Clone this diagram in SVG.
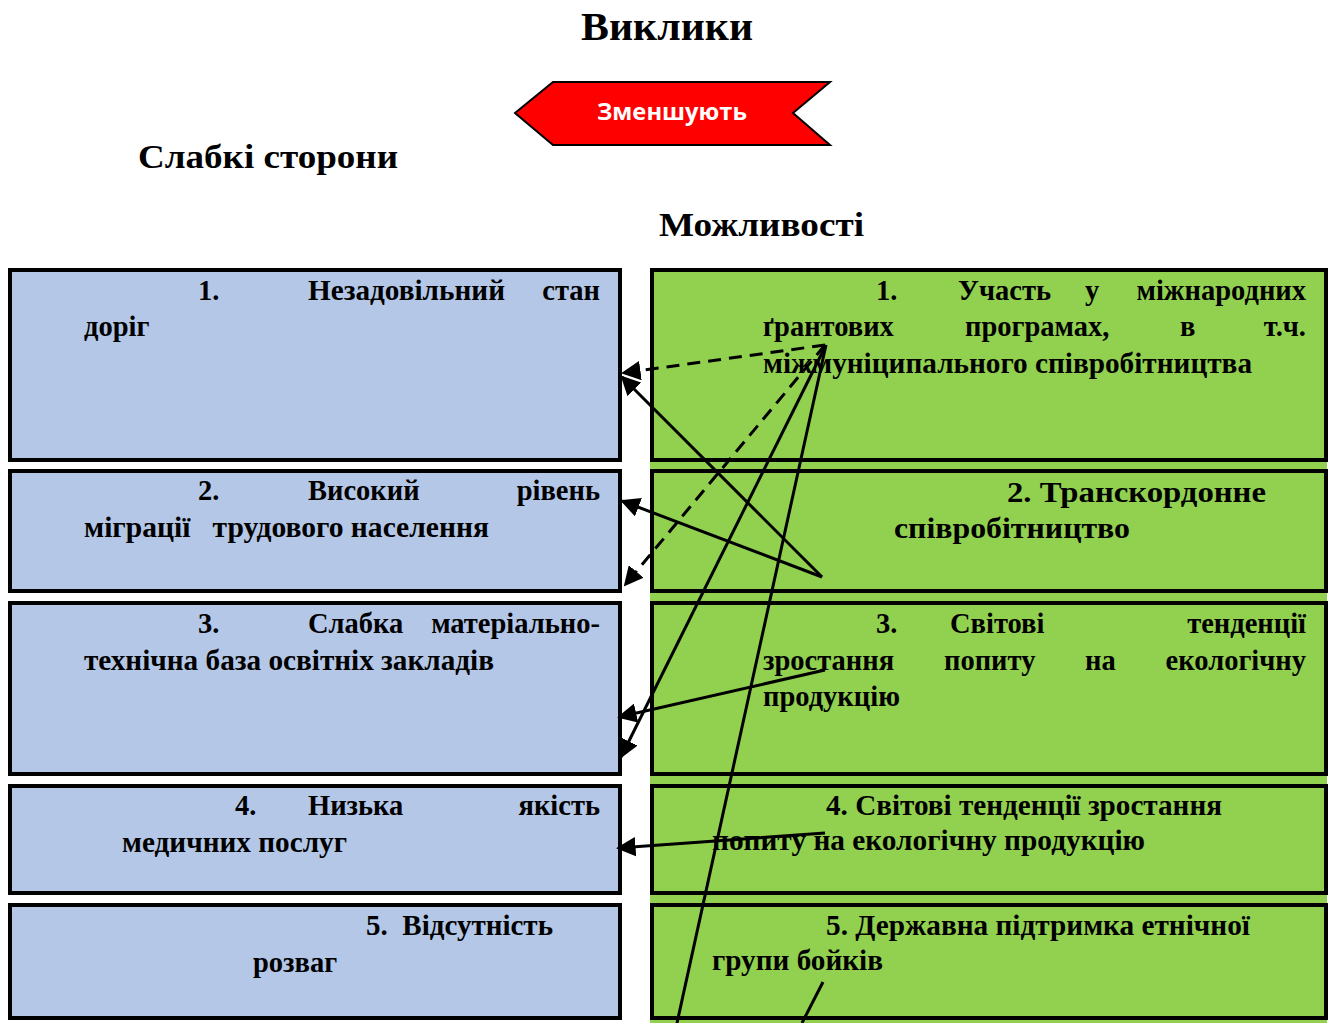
<svg xmlns="http://www.w3.org/2000/svg" width="1334" height="1023" viewBox="0 0 1334 1023">
<style>
.t{font-family:"Liberation Serif","Times New Roman",serif;font-weight:bold;fill:#000}
.b{font-size:28.5px}
.h{font-size:34px}
.wk{fill:#b4c7e7;stroke:#000;stroke-width:4}
.op{fill:#92d050;stroke:#000;stroke-width:4}
.ln{stroke:#000;stroke-width:3;fill:none}
.ds{stroke-dasharray:13 8}
</style>
<defs>
<marker id="ah" viewBox="0 0 10 10" refX="9" refY="5" markerWidth="6.5" markerHeight="6.5" markerUnits="strokeWidth" orient="auto">
<path d="M0,0 L10,5 L0,10 z" fill="#000"/>
</marker>
</defs>
<rect width="1334" height="1023" fill="#fff"/>
<g id="title">
<text class="t" x="667" y="40" text-anchor="middle" font-size="41" textLength="172" lengthAdjust="spacingAndGlyphs">Виклики</text>
<text class="t h" x="138" y="168" textLength="260" lengthAdjust="spacingAndGlyphs">Слабкі сторони</text>
<text class="t h" x="659" y="236" textLength="205" lengthAdjust="spacingAndGlyphs">Можливості</text>
</g>
<g id="arrow-zmenshuiut">
<polygon points="515,113 553,82 830,82 793,113 830,145 553,145" fill="#ff0000" stroke="#000" stroke-width="2"/>
<text x="672" y="120" text-anchor="middle" font-family="'Open Sans','Liberation Sans',sans-serif" font-weight="bold" font-size="23" fill="#fff" textLength="150" lengthAdjust="spacingAndGlyphs">Зменшують</text>
</g>
<rect x="650" y="268" width="677" height="755" fill="#92d050"/>
<g id="w1">
<rect class="wk" x="10" y="270" width="610" height="190"/>
<text class="t b" x="198" y="300">1.</text>
<text class="t b" x="308" y="300" textLength="197" lengthAdjust="spacingAndGlyphs">Незадовільний</text>
<text class="t b" x="600" y="300" text-anchor="end">стан</text>
<text class="t b" x="84" y="336">доріг</text>
</g>
<g id="w2">
<rect class="wk" x="10" y="471" width="610" height="120"/>
<text class="t b" x="198" y="500">2.</text>
<text class="t b" x="308" y="500">Високий</text>
<text class="t b" x="600" y="500" text-anchor="end">рівень</text>
<text class="t b" x="84" y="537" xml:space="preserve" textLength="405" lengthAdjust="spacingAndGlyphs">міграції   трудового населення</text>
</g>
<g id="w3">
<rect class="wk" x="10" y="603" width="610" height="171"/>
<text class="t b" x="198" y="633">3.</text>
<text class="t b" x="308" y="633">Слабка</text>
<text class="t b" x="600" y="633" text-anchor="end">матеріально-</text>
<text class="t b" x="84" y="670" textLength="410" lengthAdjust="spacingAndGlyphs">технічна база освітніх закладів</text>
</g>
<g id="w4">
<rect class="wk" x="10" y="786" width="610" height="107"/>
<text class="t b" x="235" y="815">4.</text>
<text class="t b" x="308" y="815">Низька</text>
<text class="t b" x="600" y="815" text-anchor="end">якість</text>
<text class="t b" x="122" y="852" textLength="225" lengthAdjust="spacingAndGlyphs">медичних послуг</text>
</g>
<g id="w5">
<rect class="wk" x="10" y="905" width="610" height="113"/>
<text class="t b" x="366" y="935" xml:space="preserve" textLength="187" lengthAdjust="spacingAndGlyphs">5.  Відсутність</text>
<text class="t b" x="253" y="972">розваг</text>
</g>
<g id="o1">
<rect class="op" x="652" y="270" width="674" height="190"/>
<text class="t b" x="876" y="300">1.</text>
<text class="t b" x="958" y="300">Участь</text>
<text class="t b" x="1085" y="300">у</text>
<text class="t b" x="1306" y="300" text-anchor="end">міжнародних</text>
<text class="t b" x="763" y="336">ґрантових</text>
<text class="t b" x="965" y="336">програмах,</text>
<text class="t b" x="1180" y="336">в</text>
<text class="t b" x="1306" y="336" text-anchor="end">т.ч.</text>
<text class="t b" x="763" y="373" textLength="489" lengthAdjust="spacingAndGlyphs">міжмуніципального співробітництва</text>
</g>
<g id="o2">
<rect class="op" x="652" y="471" width="674" height="120"/>
<text class="t b" x="1007" y="502" textLength="259" lengthAdjust="spacingAndGlyphs">2. Транскордонне</text>
<text class="t b" x="894" y="538" textLength="236" lengthAdjust="spacingAndGlyphs">співробітництво</text>
</g>
<g id="o3">
<rect class="op" x="652" y="603" width="674" height="171"/>
<text class="t b" x="876" y="633">3.</text>
<text class="t b" x="950" y="633">Світові</text>
<text class="t b" x="1306" y="633" text-anchor="end">тенденції</text>
<text class="t b" x="763" y="670">зростання</text>
<text class="t b" x="944" y="670">попиту</text>
<text class="t b" x="1085" y="670">на</text>
<text class="t b" x="1306" y="670" text-anchor="end">екологічну</text>
<text class="t b" x="763" y="706">продукцію</text>
</g>
<g id="o4">
<rect class="op" x="652" y="786" width="674" height="107"/>
<text class="t b" x="826" y="815" textLength="396" lengthAdjust="spacingAndGlyphs">4. Світові тенденції зростання</text>
<text class="t b" x="712" y="850" textLength="433" lengthAdjust="spacingAndGlyphs">попиту на екологічну продукцію</text>
</g>
<g id="o5">
<rect class="op" x="652" y="905" width="674" height="113"/>
<text class="t b" x="826" y="935" textLength="424" lengthAdjust="spacingAndGlyphs">5. Державна підтримка етнічної</text>
<text class="t b" x="712" y="970" textLength="171" lengthAdjust="spacingAndGlyphs">групи бойків</text>
</g>
<g id="connectors">
<line class="ln ds" x1="825" y1="345" x2="623" y2="373" marker-end="url(#ah)"/>
<line class="ln ds" x1="825" y1="345" x2="625" y2="585" marker-end="url(#ah)"/>
<line class="ln" x1="822" y1="577" x2="622" y2="377" marker-end="url(#ah)"/>
<line class="ln" x1="822" y1="577" x2="622" y2="501" marker-end="url(#ah)"/>
<line class="ln" x1="826" y1="345" x2="621" y2="757" marker-end="url(#ah)"/>
<line class="ln" x1="826" y1="345" x2="677" y2="1023"/>
<line class="ln" x1="825" y1="670" x2="619" y2="717" marker-end="url(#ah)"/>
<line class="ln" x1="825" y1="833" x2="618" y2="848" marker-end="url(#ah)"/>
<line class="ln" x1="823" y1="982" x2="802" y2="1023"/>
</g>
</svg>
